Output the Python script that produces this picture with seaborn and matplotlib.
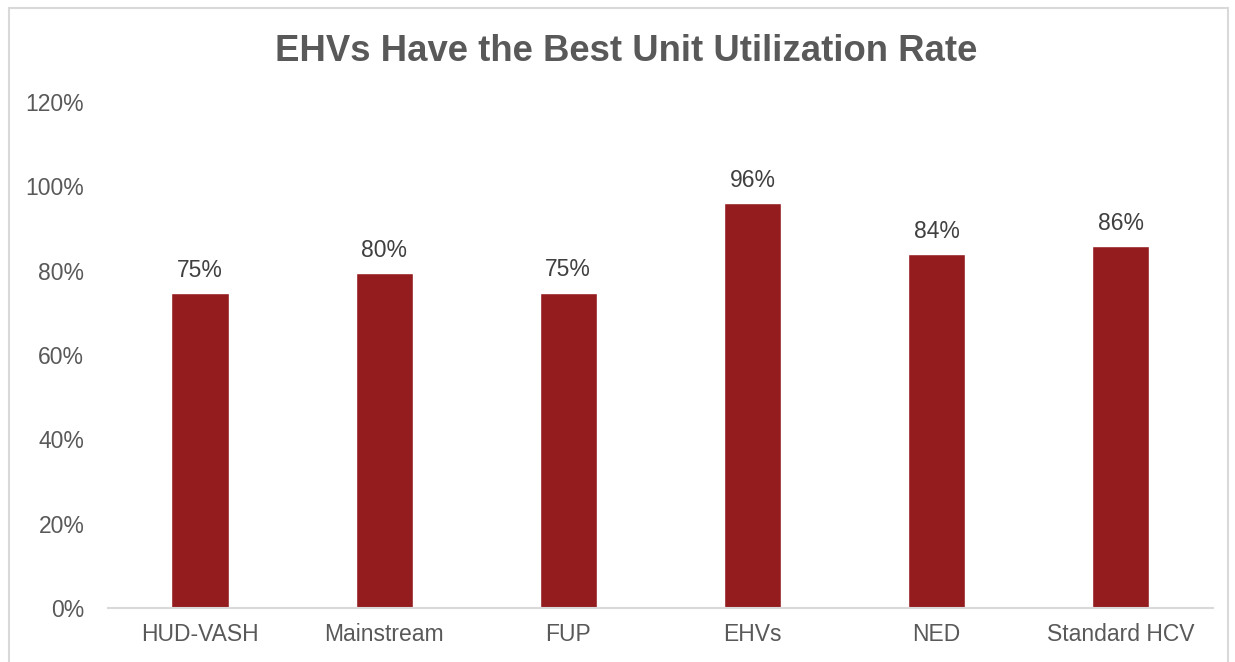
import matplotlib
matplotlib.use("Agg")
import matplotlib.pyplot as plt
import seaborn as sns
import pandas as pd
from matplotlib.patches import Rectangle
from matplotlib.ticker import PercentFormatter

# data
programs = ["HUD-VASH", "Mainstream", "FUP", "EHVs", "NED", "Standard HCV"]
utilization = [74.6, 79.5, 74.8, 96.0, 84.0, 85.9]

df = pd.DataFrame({"program": programs, "rate": utilization})

sns.set_theme(style="white")
plt.rcParams["font.family"] = ["Liberation Sans", "DejaVu Sans"]

fig = plt.figure(figsize=(12.35, 6.62), dpi=100)
ax = fig.add_axes([0.0874, 0.0816, 0.8946, 0.7644])

sns.barplot(data=df, x="program", y="rate", color="#941C1F",
            width=0.31, saturation=1, ax=ax)

# value labels above bars
for p, v in zip(ax.patches, utilization):
    ax.annotate(f"{v:.0f}%", (p.get_x() + p.get_width() / 2, v),
                xytext=(0, 8), textcoords="offset points",
                ha="center", va="bottom", fontsize=16.5, color="#404040")

ax.set_ylim(0, 120)
ax.set_yticks(range(0, 121, 20))
ax.yaxis.set_major_formatter(PercentFormatter(decimals=0))
ax.set_xlim(-0.5, len(programs) - 0.5)
ax.set_xlabel("")
ax.set_ylabel("")
ax.tick_params(axis="both", labelsize=16.5, labelcolor="#595959", length=0)
ax.tick_params(axis="y", pad=17)
ax.tick_params(axis="x", pad=11)

for s in ["top", "right", "left"]:
    ax.spines[s].set_visible(False)
ax.spines["bottom"].set_color("#D9D9D9")
ax.spines["bottom"].set_linewidth(1.5)

fig.text(0.507, 0.922, "EHVs Have the Best Unit Utilization Rate",
         ha="center", va="center", fontsize=26.3, fontweight="bold",
         color="#595959")

# outer frame of the chart
fig.patches.append(Rectangle((9 / 1235, -0.05), 1219 / 1235, 1.05 - 8 / 662,
                             transform=fig.transFigure, fill=False,
                             edgecolor="#D9D9D9", linewidth=1.5))

fig.savefig("out.png", dpi=100)
